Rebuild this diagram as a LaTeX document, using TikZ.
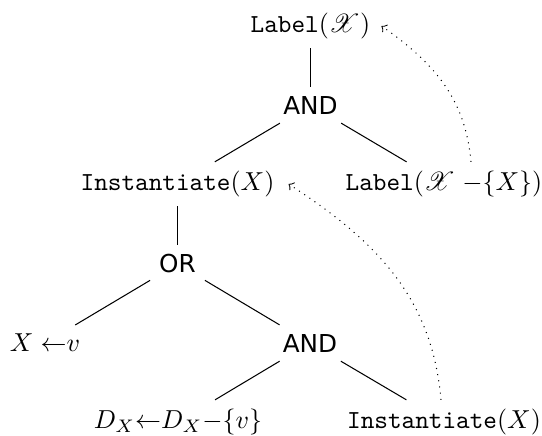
\documentclass[tikz,border=0pt]{standalone}
\usepackage{fontspec}
\usepackage{mathrsfs}
\newfontfamily\gatefont{DejaVu Sans}
\usetikzlibrary{calc}
\begin{document}
\begin{tikzpicture}[x=0.385pt, y=0.385pt,
  every node/.style={font=\fontsize{10}{12}\selectfont},
  gate/.style={font=\gatefont\fontsize{9.5}{11}\selectfont},
  treeedge/.style={line width=0.4pt},
  hint/.style={dotted, line width=0.4pt, ->}]
\useasboundingbox (0,0) rectangle (542,-435);

% search tree
\node (lx) at (310.5,-26) {\texttt{Label}$(\mathscr{X})$};
\node[gate] (a1) at (310.5,-105) {AND};
\node (i1) at (177.5,-184) {\texttt{Instantiate}$(X)$};
\node (l2) at (444,-184) {\texttt{Label}$(\mathscr{X}\;{-}\{X\})$};
\node[gate] (o) at (177.5,-264) {OR};
\node (xv) at (45,-343) {$X\;{\leftarrow}v$};
\node[gate] (a2) at (310,-343) {AND};
\node (d) at (178,-422) {$D_X{\leftarrow}D_X{-}\{v\}$};
\node (i2) at (444,-422) {\texttt{Instantiate}$(X)$};

\draw[treeedge] (lx) -- (a1);
\draw[treeedge] (a1) -- (i1);
\draw[treeedge] (a1) -- (l2);
\draw[treeedge] (i1) -- (o);
\draw[treeedge] (o) -- (xv);
\draw[treeedge] (o) -- (a2);
\draw[treeedge] (a2) -- (d);
\draw[treeedge] (a2) -- (i2);

% recursive calls point back to their definitions
\draw[hint] ($(l2.north)+(27,0)$) to[out=95,in=-35] ($(lx.east)+(2,0)$);
\draw[hint] ($(i2.north)+(-3,0)$) to[out=95,in=-33] ($(i1.east)+(5,0)$);
\end{tikzpicture}
\end{document}
